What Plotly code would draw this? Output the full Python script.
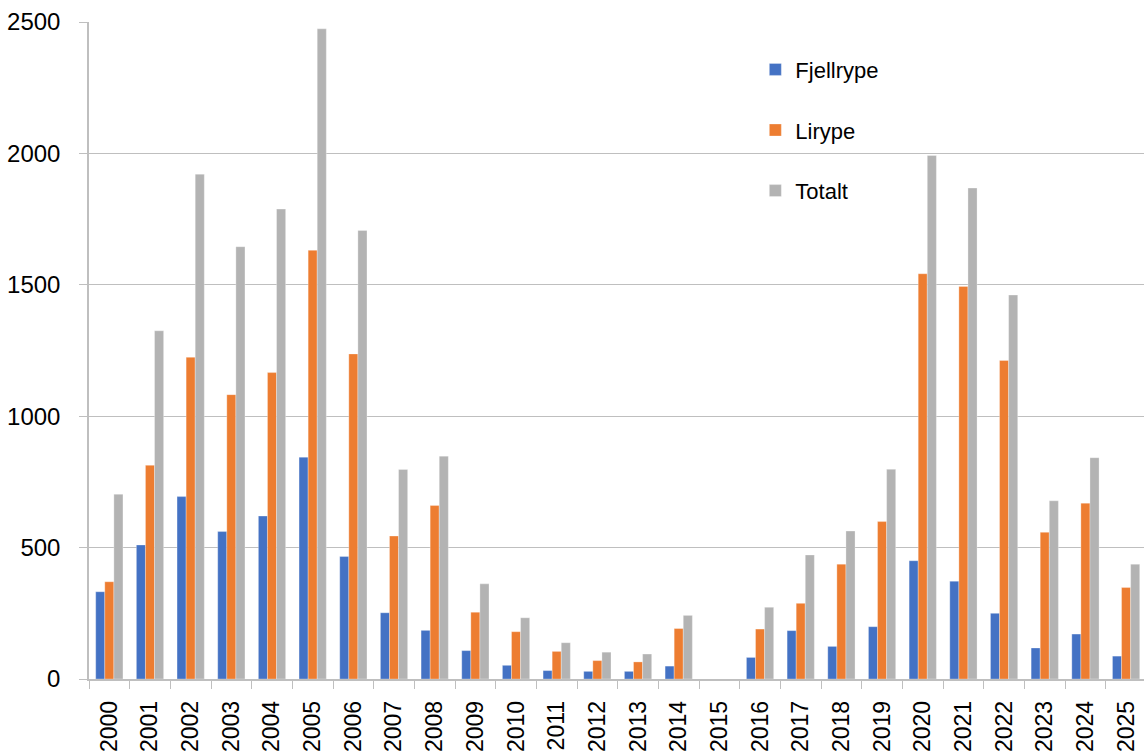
import plotly.graph_objects as go

years = [str(y) for y in range(2000, 2026)]
fjellrype = [332, 510, 694, 561, 620, 844, 466, 252, 185, 108, 52, 32, 29, 29, 49, None,
             82, 184, 124, 199, 450, 372, 250, 118, 171, 87]
lirype = [370, 813, 1224, 1082, 1166, 1631, 1237, 544, 660, 254, 180, 105, 70, 65, 192, None,
          190, 288, 437, 599, 1542, 1494, 1212, 558, 669, 348]
totalt = [703, 1325, 1921, 1645, 1788, 2474, 1707, 797, 848, 362, 233, 138, 102, 95, 242, None,
          273, 472, 563, 798, 1992, 1868, 1461, 678, 842, 437]

series = [("Fjellrype", fjellrype, "#4472C4"),
          ("Lirype", lirype, "#ED7D31"),
          ("Totalt", totalt, "#B3B3B3")]

fig = go.Figure()
for name, vals, col in series:
    fig.add_trace(go.Bar(x=years, y=vals, name=name, legendgroup=name,
                         marker=dict(color=col, line=dict(color="white", width=0.3))))

font_main = "Liberation Sans, Arial, sans-serif"
fig.update_layout(
    width=1144, height=751,
    margin=dict(l=89, r=0, t=22, b=72, autoexpand=False),
    paper_bgcolor="white", plot_bgcolor="white",
    barmode="group", bargap=0.33, bargroupgap=0,
    font=dict(family=font_main, color="#000000"),
    showlegend=True,
    legend=dict(x=0.6316, y=0.9595, xanchor="left", yanchor="top",
                font=dict(size=22, family=font_main, color="#000000"),
                tracegroupgap=29, bgcolor="rgba(0,0,0,0)"),
    xaxis=dict(type="category", range=[-0.5, 25.44], tickangle=-90,
               tickson="boundaries", ticks="outside", ticklen=8, tickcolor="#BFBFBF",
               showline=True, linecolor="#BFBFBF", linewidth=1.5,
               showgrid=False, tickfont=dict(size=23, family=font_main),
               ticklabelstandoff=11, automargin=False),
    yaxis=dict(range=[0, 2500], tickvals=[0, 500, 1000, 1500, 2000, 2500],
               ticks="outside", ticklen=8, tickcolor="#BFBFBF",
               showline=True, linecolor="#BFBFBF", linewidth=1.5,
               showgrid=True, gridcolor="#BFBFBF", gridwidth=1,
               zeroline=False, tickfont=dict(size=24, family=font_main),
               ticklabelstandoff=14, automargin=False),
)

fig.write_html("out.html", config={"displayModeBar": False},
               post_script="document.body.style.margin='0';document.body.style.overflow='hidden';")
